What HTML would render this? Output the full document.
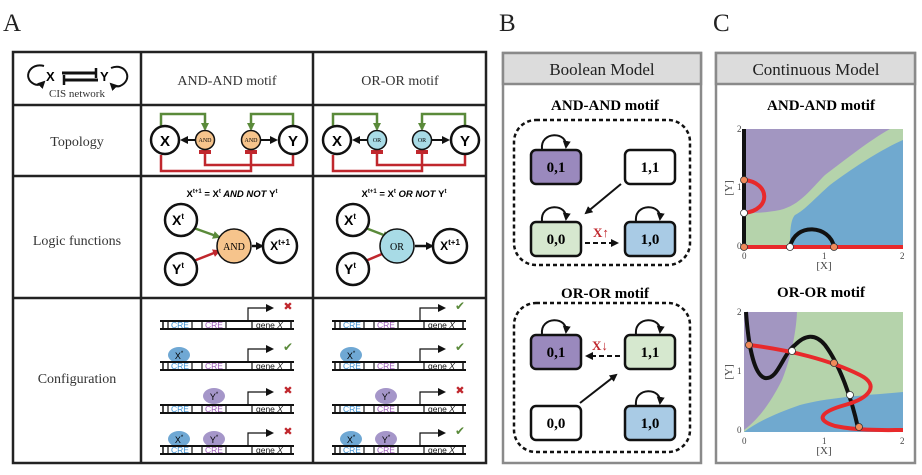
<!DOCTYPE html>
<html><head><meta charset="utf-8"><style>
html,body{margin:0;padding:0;background:#fff}
svg{display:block}
.s{font-family:"Liberation Serif",serif}
.b{font-family:"Liberation Sans",sans-serif;font-weight:bold}
</style></head><body>
<svg width="922" height="475" viewBox="0 0 922 475" xmlns="http://www.w3.org/2000/svg">
<defs>
<marker id="ak" markerWidth="8" markerHeight="8" refX="6" refY="4" orient="auto" markerUnits="userSpaceOnUse"><path d="M0,0 L8,4 L0,8 z" fill="#111"/></marker>
<marker id="ag" markerWidth="8" markerHeight="8" refX="6" refY="4" orient="auto" markerUnits="userSpaceOnUse"><path d="M0,0 L8,4 L0,8 z" fill="#5a8a3a"/></marker>
<marker id="ar" markerWidth="8" markerHeight="8" refX="6" refY="4" orient="auto" markerUnits="userSpaceOnUse"><path d="M0,0 L8,4 L0,8 z" fill="#c0272d"/></marker>
<marker id="tr" markerWidth="4" markerHeight="12" refX="2" refY="6" orient="auto" markerUnits="userSpaceOnUse"><rect x="0" y="0" width="4" height="12" fill="#c0272d"/></marker>
<g id="loop"><path d="M-13,16 C-15,-2 13,-2 11,14" fill="none" stroke="#111" stroke-width="2" marker-end="url(#ak)"/></g>
</defs>

<text x="3" y="31" class="s" font-size="25" fill="#222">A</text>
<text x="499" y="31" class="s" font-size="25" fill="#222">B</text>
<text x="713" y="31" class="s" font-size="25" fill="#222">C</text>

<rect x="13" y="52" width="473" height="411" fill="none" stroke="#222" stroke-width="2.5"/>
<line x1="141" y1="52" x2="141" y2="463" stroke="#222" stroke-width="2.5"/>
<line x1="313" y1="52" x2="313" y2="463" stroke="#222" stroke-width="2.5"/>
<line x1="13" y1="105" x2="486" y2="105" stroke="#222" stroke-width="2.5"/>
<line x1="13" y1="176" x2="486" y2="176" stroke="#222" stroke-width="2.5"/>
<line x1="13" y1="298" x2="486" y2="298" stroke="#222" stroke-width="2.5"/>

<path d="M44,66 C30,62 22,78 34,84 C38,86 42,84 44,82" fill="none" stroke="#111" stroke-width="2" marker-end="url(#ak)"/>
<path d="M111,68 C126,62 134,80 120,86 C116,87 113,86 111,84" fill="none" stroke="#111" stroke-width="2" marker-end="url(#ak)"/>
<text x="46" y="81" class="b" font-size="13">X</text>
<text x="100" y="81" class="b" font-size="13">Y</text>
<line x1="62" y1="73" x2="96" y2="73" stroke="#111" stroke-width="3"/>
<line x1="96" y1="68" x2="96" y2="78" stroke="#111" stroke-width="2.5"/>
<line x1="64" y1="80" x2="98" y2="80" stroke="#111" stroke-width="3"/>
<line x1="64" y1="75" x2="64" y2="85" stroke="#111" stroke-width="2.5"/>
<text x="77" y="97" class="s" font-size="11" text-anchor="middle" fill="#333">CIS network</text>

<text x="227" y="85" class="s" font-size="14" text-anchor="middle" fill="#333">AND-AND motif</text>
<text x="400" y="85" class="s" font-size="14" text-anchor="middle" fill="#333">OR-OR motif</text>
<text x="77" y="146" class="s" font-size="14" text-anchor="middle" fill="#333">Topology</text>
<text x="77" y="245" class="s" font-size="14" text-anchor="middle" fill="#333">Logic functions</text>
<text x="77" y="383" class="s" font-size="14" text-anchor="middle" fill="#333">Configuration</text>

<g>
<path d="M161,126 V114 H205 V129" fill="none" stroke="#5a8a3a" stroke-width="2.5" marker-end="url(#ag)"/>
<path d="M293,126 V114 H251 V129" fill="none" stroke="#5a8a3a" stroke-width="2.5" marker-end="url(#ag)"/>
<path d="M161,155 V171 H251 V152" fill="none" stroke="#c0272d" stroke-width="2.5" marker-end="url(#tr)"/>
<path d="M293,155 V165 H205 V152" fill="none" stroke="#c0272d" stroke-width="2.5" marker-end="url(#tr)"/>
<line x1="195" y1="140" x2="182" y2="140" stroke="#111" stroke-width="2" marker-end="url(#ak)"/>
<line x1="261" y1="140" x2="276" y2="140" stroke="#111" stroke-width="2" marker-end="url(#ak)"/>
<circle cx="165" cy="140" r="14" fill="#fff" stroke="#111" stroke-width="2.5"/>
<circle cx="293" cy="140" r="14" fill="#fff" stroke="#111" stroke-width="2.5"/>
<circle cx="205" cy="140" r="9.5" fill="#f6c48c" stroke="#111" stroke-width="1.5"/>
<circle cx="251" cy="140" r="9.5" fill="#f6c48c" stroke="#111" stroke-width="1.5"/>
<text x="165" y="146" class="b" font-size="15" text-anchor="middle">X</text>
<text x="293" y="146" class="b" font-size="15" text-anchor="middle">Y</text>
<text x="205" y="142" class="s" font-size="6" text-anchor="middle">AND</text>
<text x="251" y="142" class="s" font-size="6" text-anchor="middle">AND</text>
</g>
<g>
<path d="M333,126 V114 H377 V129" fill="none" stroke="#5a8a3a" stroke-width="2.5" marker-end="url(#ag)"/>
<path d="M465,126 V114 H422 V129" fill="none" stroke="#5a8a3a" stroke-width="2.5" marker-end="url(#ag)"/>
<path d="M333,155 V171 H422 V152" fill="none" stroke="#c0272d" stroke-width="2.5" marker-end="url(#tr)"/>
<path d="M465,155 V165 H377 V152" fill="none" stroke="#c0272d" stroke-width="2.5" marker-end="url(#tr)"/>
<line x1="367" y1="140" x2="354" y2="140" stroke="#111" stroke-width="2" marker-end="url(#ak)"/>
<line x1="432" y1="140" x2="448" y2="140" stroke="#111" stroke-width="2" marker-end="url(#ak)"/>
<circle cx="337" cy="140" r="14" fill="#fff" stroke="#111" stroke-width="2.5"/>
<circle cx="465" cy="140" r="14" fill="#fff" stroke="#111" stroke-width="2.5"/>
<circle cx="377" cy="140" r="9.5" fill="#a8dbe6" stroke="#111" stroke-width="1.5"/>
<circle cx="422" cy="140" r="9.5" fill="#a8dbe6" stroke="#111" stroke-width="1.5"/>
<text x="337" y="146" class="b" font-size="15" text-anchor="middle">X</text>
<text x="465" y="146" class="b" font-size="15" text-anchor="middle">Y</text>
<text x="377" y="142" class="s" font-size="6" text-anchor="middle">OR</text>
<text x="422" y="142" class="s" font-size="6" text-anchor="middle">OR</text>
</g>

<text x="232" y="197" class="b" font-size="9.5" text-anchor="middle">X<tspan font-size="6" dy="-4">t+1</tspan><tspan dy="4"> = X</tspan><tspan font-size="6" dy="-4">t</tspan><tspan dy="4" font-style="italic"> AND NOT </tspan>Y<tspan font-size="6" dy="-4">t</tspan></text>
<line x1="191" y1="227" x2="219" y2="237" stroke="#5a8a3a" stroke-width="2.5" marker-end="url(#ag)"/>
<line x1="191" y1="262" x2="219" y2="251" stroke="#c0272d" stroke-width="2.5" marker-end="url(#ar)"/>
<line x1="252" y1="246" x2="262" y2="246" stroke="#111" stroke-width="2.5" marker-end="url(#ak)"/>
<circle cx="181" cy="220" r="16" fill="#fff" stroke="#111" stroke-width="2.5"/>
<circle cx="181" cy="269" r="16" fill="#fff" stroke="#111" stroke-width="2.5"/>
<circle cx="234" cy="246" r="17" fill="#f6c48c" stroke="#111" stroke-width="1.5"/>
<circle cx="280" cy="246" r="17" fill="#fff" stroke="#111" stroke-width="2.5"/>
<text x="178" y="225" class="b" font-size="14" text-anchor="middle">X<tspan font-size="8" dy="-6">t</tspan></text>
<text x="178" y="274" class="b" font-size="14" text-anchor="middle">Y<tspan font-size="8" dy="-6">t</tspan></text>
<text x="234" y="250" class="s" font-size="10" text-anchor="middle">AND</text>
<text x="280" y="250" class="b" font-size="12" text-anchor="middle">X<tspan font-size="8" dy="-5">t+1</tspan></text>

<text x="404" y="197" class="b" font-size="9.5" text-anchor="middle">X<tspan font-size="6" dy="-4">t+1</tspan><tspan dy="4"> = X</tspan><tspan font-size="6" dy="-4">t</tspan><tspan dy="4" font-style="italic"> OR NOT </tspan>Y<tspan font-size="6" dy="-4">t</tspan></text>
<line x1="363" y1="227" x2="389" y2="237" stroke="#5a8a3a" stroke-width="2.5" marker-end="url(#ag)"/>
<line x1="363" y1="262" x2="389" y2="251" stroke="#c0272d" stroke-width="2.5" marker-end="url(#ar)"/>
<line x1="415" y1="246" x2="432" y2="246" stroke="#111" stroke-width="2.5" marker-end="url(#ak)"/>
<circle cx="353" cy="220" r="16" fill="#fff" stroke="#111" stroke-width="2.5"/>
<circle cx="353" cy="269" r="16" fill="#fff" stroke="#111" stroke-width="2.5"/>
<circle cx="397" cy="246" r="17" fill="#a8dbe6" stroke="#111" stroke-width="1.5"/>
<circle cx="450" cy="246" r="17" fill="#fff" stroke="#111" stroke-width="2.5"/>
<text x="350" y="225" class="b" font-size="14" text-anchor="middle">X<tspan font-size="8" dy="-6">t</tspan></text>
<text x="350" y="274" class="b" font-size="14" text-anchor="middle">Y<tspan font-size="8" dy="-6">t</tspan></text>
<text x="397" y="250" class="s" font-size="10" text-anchor="middle">OR</text>
<text x="450" y="250" class="b" font-size="12" text-anchor="middle">X<tspan font-size="8" dy="-5">t+1</tspan></text>

<defs>
<g id="dna">
<line x1="0" y1="-8" x2="134" y2="-8" stroke="#111" stroke-width="2"/>
<line x1="0" y1="0" x2="134" y2="0" stroke="#111" stroke-width="2"/>
<line x1="3" y1="-8" x2="3" y2="0" stroke="#111" stroke-width="1.5"/>
<line x1="131" y1="-8" x2="131" y2="0" stroke="#111" stroke-width="1.5"/>
<line x1="8" y1="-8" x2="8" y2="0" stroke="#111" stroke-width="1.2"/>
<line x1="32" y1="-8" x2="32" y2="0" stroke="#111" stroke-width="1.2"/>
<text x="20" y="-1" font-family="Liberation Sans,sans-serif" font-size="8.5" fill="#3b8fd0" text-anchor="middle">CRE</text>
<line x1="42" y1="-8" x2="42" y2="0" stroke="#111" stroke-width="1.2"/>
<line x1="66" y1="-8" x2="66" y2="0" stroke="#111" stroke-width="1.2"/>
<text x="54" y="-1" font-family="Liberation Sans,sans-serif" font-size="8.5" fill="#9b59b6" text-anchor="middle">CRE</text>
<line x1="92" y1="-8" x2="92" y2="0" stroke="#111" stroke-width="1.2"/>
<text x="96" y="-1" font-family="Liberation Sans,sans-serif" font-size="8.5" fill="#111">gene <tspan font-style="italic">X</tspan></text>
<path d="M88,-8 V-21 H112" fill="none" stroke="#111" stroke-width="1.2" marker-end="url(#ak)"/>
</g>
<g id="xs"><ellipse cx="0" cy="0" rx="11" ry="8" fill="#6fa8d4"/><text x="0" y="4" font-family="Liberation Sans,sans-serif" font-size="9" text-anchor="middle">X<tspan font-size="6" dy="-4">*</tspan></text></g>
<g id="ys"><ellipse cx="0" cy="0" rx="11" ry="8" fill="#a596c9"/><text x="0" y="4" font-family="Liberation Sans,sans-serif" font-size="9" text-anchor="middle">Y<tspan font-size="6" dy="-4">*</tspan></text></g>
<g id="no"><text x="0" y="4" font-family="DejaVu Sans,sans-serif" font-size="11" fill="#c0272d" text-anchor="middle" font-weight="bold">✖</text></g>
<g id="ok"><text x="0" y="4" font-family="DejaVu Sans,sans-serif" font-size="12" fill="#5a8a3a" text-anchor="middle" font-weight="bold">✔</text></g>
</defs>
<g transform="translate(160,329)"><use href="#dna"/><use href="#no" x="128" y="-23"/></g>
<g transform="translate(160,370)"><use href="#xs" x="19" y="-15"/><use href="#dna"/><use href="#ok" x="128" y="-23"/></g>
<g transform="translate(160,413)"><use href="#ys" x="54" y="-17"/><use href="#dna"/><use href="#no" x="128" y="-23"/></g>
<g transform="translate(160,454)"><use href="#xs" x="19" y="-15"/><use href="#ys" x="54" y="-15"/><use href="#dna"/><use href="#no" x="128" y="-23"/></g>
<g transform="translate(332,329)"><use href="#dna"/><use href="#ok" x="128" y="-23"/></g>
<g transform="translate(332,370)"><use href="#xs" x="19" y="-15"/><use href="#dna"/><use href="#ok" x="128" y="-23"/></g>
<g transform="translate(332,413)"><use href="#ys" x="54" y="-17"/><use href="#dna"/><use href="#no" x="128" y="-23"/></g>
<g transform="translate(332,454)"><use href="#xs" x="19" y="-15"/><use href="#ys" x="54" y="-15"/><use href="#dna"/><use href="#ok" x="128" y="-23"/></g>

<rect x="503" y="53" width="198" height="410" fill="#fff" stroke="#8a8a8a" stroke-width="2.5"/>
<rect x="503" y="53" width="198" height="31" fill="#dcdcdc" stroke="#8a8a8a" stroke-width="2.5"/>
<text x="602" y="75" class="s" font-size="17" text-anchor="middle" fill="#222">Boolean Model</text>
<text x="605" y="110" class="s" font-size="15" font-weight="bold" text-anchor="middle">AND-AND motif</text>
<rect x="514" y="120" width="176" height="145" rx="22" fill="none" stroke="#111" stroke-width="2.5" stroke-dasharray="4,3"/>
<g stroke="#111" stroke-width="2.5">
<rect x="531" y="150" width="50" height="34" rx="5" fill="#9a89bd"/>
<rect x="625" y="150" width="50" height="34" rx="5" fill="#fff"/>
<rect x="531" y="222" width="50" height="34" rx="5" fill="#d6e8cf"/>
<rect x="625" y="222" width="50" height="34" rx="5" fill="#a9cbe5"/>
</g>
<g class="s" font-size="15" font-weight="bold" text-anchor="middle">
<text x="556" y="172">0,1</text><text x="650" y="172">1,1</text><text x="556" y="244">0,0</text><text x="650" y="244">1,0</text>
</g>
<use href="#loop" x="555" y="133"/><use href="#loop" x="555" y="205"/><use href="#loop" x="649" y="205"/>
<line x1="621" y1="184" x2="586" y2="213" stroke="#111" stroke-width="2" marker-end="url(#ak)"/>
<line x1="585" y1="243" x2="617" y2="243" stroke="#111" stroke-width="2" stroke-dasharray="5,3" marker-end="url(#ak)"/>
<text x="593" y="237" class="s" font-size="13" font-weight="bold" fill="#c0272d">X↑</text>

<text x="605" y="298" class="s" font-size="15" font-weight="bold" text-anchor="middle">OR-OR motif</text>
<rect x="514" y="303" width="176" height="149" rx="22" fill="none" stroke="#111" stroke-width="2.5" stroke-dasharray="4,3"/>
<g stroke="#111" stroke-width="2.5">
<rect x="531" y="335" width="50" height="34" rx="5" fill="#9a89bd"/>
<rect x="625" y="335" width="50" height="34" rx="5" fill="#d6e8cf"/>
<rect x="531" y="406" width="50" height="34" rx="5" fill="#fff"/>
<rect x="625" y="406" width="50" height="34" rx="5" fill="#a9cbe5"/>
</g>
<g class="s" font-size="15" font-weight="bold" text-anchor="middle">
<text x="556" y="357">0,1</text><text x="650" y="357">1,1</text><text x="556" y="428">0,0</text><text x="650" y="428">1,0</text>
</g>
<use href="#loop" x="555" y="318"/><use href="#loop" x="649" y="318"/><use href="#loop" x="649" y="389"/>
<line x1="580" y1="403" x2="616" y2="375" stroke="#111" stroke-width="2" marker-end="url(#ak)"/>
<line x1="620" y1="356" x2="587" y2="356" stroke="#111" stroke-width="2" stroke-dasharray="5,3" marker-end="url(#ak)"/>
<text x="592" y="350" class="s" font-size="13" font-weight="bold" fill="#c0272d">X↓</text>

<rect x="716" y="53" width="199" height="410" fill="#fff" stroke="#8a8a8a" stroke-width="2.5"/>
<rect x="716" y="53" width="199" height="31" fill="#dcdcdc" stroke="#8a8a8a" stroke-width="2.5"/>
<text x="816" y="75" class="s" font-size="17" text-anchor="middle" fill="#222">Continuous Model</text>
<text x="821" y="110" class="s" font-size="15" font-weight="bold" text-anchor="middle">AND-AND motif</text>

<rect x="744" y="129" width="159" height="118" fill="#b5d3ab"/>
<path d="M744,129 H890 C870,140 845,160 825,175 C810,190 800,205 780,210 C765,213 752,213 744,213 Z" fill="#a296c1"/>
<path d="M903,140 C880,150 850,170 830,185 C815,198 805,210 795,215 C790,220 790,235 790,247 H903 Z" fill="#70a9cf"/>
<line x1="744" y1="129" x2="744" y2="247" stroke="#111" stroke-width="4"/>
<line x1="744" y1="247" x2="903" y2="247" stroke="#e8292b" stroke-width="4"/>
<path d="M744,180 C770,182 772,210 744,213" fill="none" stroke="#e8292b" stroke-width="4"/>
<path d="M790,247 C795,222 830,225 834,247" fill="none" stroke="#111" stroke-width="4"/>
<g stroke="#333" stroke-width="0.8">
<circle cx="744" cy="180" r="3.5" fill="#f08a5a"/><circle cx="744" cy="213" r="3.5" fill="#fff"/>
<circle cx="744" cy="247" r="3.5" fill="#f08a5a"/><circle cx="790" cy="247" r="3.5" fill="#fff"/><circle cx="834" cy="247" r="3.5" fill="#f08a5a"/>
</g>
<g class="s" font-size="9" fill="#444">
<text x="737" y="132">2</text><text x="737" y="190">1</text><text x="737" y="249">0</text>
<text x="742" y="259">0</text><text x="822" y="259">1</text><text x="900" y="259">2</text>
<text x="824" y="269" text-anchor="middle" font-size="11">[X]</text>
<text x="732" y="188" text-anchor="middle" font-size="11" transform="rotate(-90 732 188)">[Y]</text>
</g>

<text x="821" y="297" class="s" font-size="15" font-weight="bold" text-anchor="middle">OR-OR motif</text>
<rect x="744" y="312" width="159" height="120" fill="#b5d3ab"/>
<path d="M744,312 H797 C796,335 790,360 782,380 C772,400 760,418 744,430 Z" fill="#a296c1"/>
<path d="M744,432 C760,420 780,412 800,405 C830,397 870,395 903,392 V432 Z" fill="#70a9cf"/>
<path d="M746,312 C748,340 753,375 765,378 C778,380 782,355 795,345 C805,335 815,333 825,345 C840,365 852,400 858,428" fill="none" stroke="#111" stroke-width="4"/>
<path d="M749,345 C790,350 830,360 860,375 C880,385 870,398 845,405 C820,412 815,420 835,426 C860,431 885,430 903,430" fill="none" stroke="#e8292b" stroke-width="4"/>
<g stroke="#333" stroke-width="0.8">
<circle cx="749" cy="345" r="3.5" fill="#f08a5a"/><circle cx="792" cy="351" r="3.5" fill="#fff"/>
<circle cx="834" cy="363" r="3.5" fill="#f08a5a"/><circle cx="850" cy="395" r="3.5" fill="#fff"/><circle cx="859" cy="427" r="3.5" fill="#f08a5a"/>
</g>
<g class="s" font-size="9" fill="#444">
<text x="737" y="315">2</text><text x="737" y="374">1</text><text x="737" y="433">0</text>
<text x="742" y="444">0</text><text x="822" y="444">1</text><text x="900" y="444">2</text>
<text x="824" y="454" text-anchor="middle" font-size="11">[X]</text>
<text x="732" y="372" text-anchor="middle" font-size="11" transform="rotate(-90 732 372)">[Y]</text>
</g>
</svg>
</body></html>
